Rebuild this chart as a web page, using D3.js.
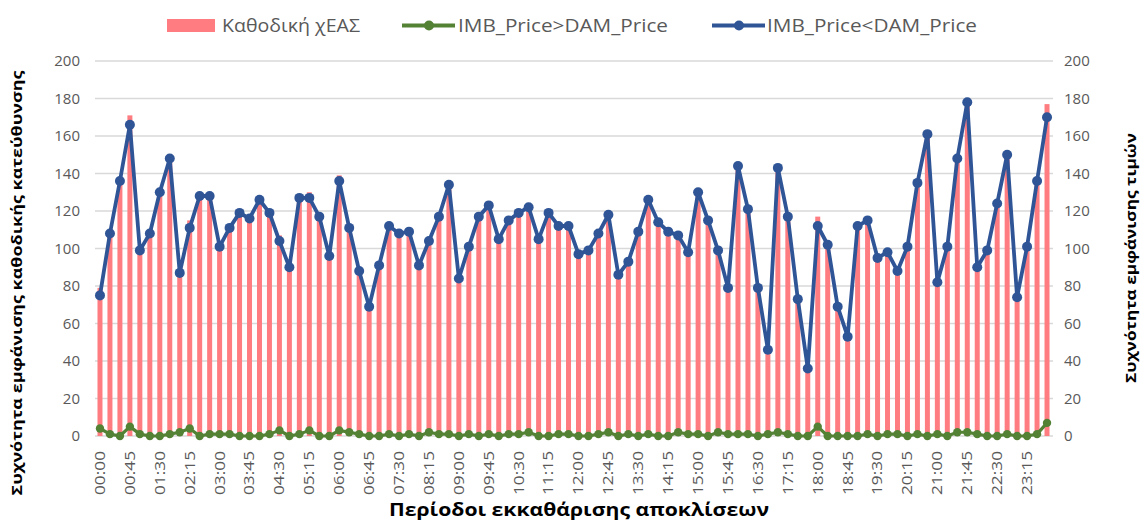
<!DOCTYPE html>
<html><head><meta charset="utf-8">
<script src="https://cdn.jsdelivr.net/npm/d3@7"></script>
<style>body{margin:0;background:#fff}svg{display:block}</style>
</head><body><svg id="c" width="1140" height="522"></svg>
<script>
const periods = [];
for (let h = 0; h < 24; h++) for (let m = 0; m < 60; m += 15) periods.push(String(h).padStart(2,"0")+":"+String(m).padStart(2,"0"));
const barValues = [79,109,136,171,100,108,130,149,89,115,128,129,102,112,119,116,126,120,107,90,128,130,117,96,139,113,89,69,91,113,108,110,91,106,118,135,84,102,117,124,105,116,120,124,105,119,113,113,97,99,109,120,86,94,109,127,114,109,109,99,131,115,101,80,145,122,79,47,145,118,73,36,117,102,69,53,112,116,95,99,89,101,136,161,83,101,150,180,91,99,124,151,74,101,137,177];
const greenValues = [4,1,0,5,1,0,0,1,2,4,0,1,1,1,0,0,0,1,3,0,1,3,0,0,3,2,1,0,0,1,0,1,0,2,1,1,0,1,0,1,0,1,1,2,0,0,1,1,0,0,1,2,0,1,0,1,0,0,2,1,1,0,2,1,1,1,0,1,2,1,0,0,5,0,0,0,0,1,0,1,1,0,1,0,1,0,2,2,1,0,0,1,0,0,1,7];
const blueValues = [75,108,136,166,99,108,130,148,87,111,128,128,101,111,119,116,126,119,104,90,127,127,117,96,136,111,88,69,91,112,108,109,91,104,117,134,84,101,117,123,105,115,119,122,105,119,112,112,97,99,108,118,86,93,109,126,114,109,107,98,130,115,99,79,144,121,79,46,143,117,73,36,112,102,69,53,112,115,95,98,88,101,135,161,82,101,148,178,90,99,124,150,74,101,136,170];
const yTicks = [0,20,40,60,80,100,120,140,160,180,200];
const seriesNames = ["Καθοδική χΕΑΣ","IMB_Price>DAM_Price","IMB_Price<DAM_Price"];

const svg = d3.select("#c");
const font = "'Open Sans', sans-serif";
const x = d3.scaleBand().domain(d3.range(periods.length)).range([95,1052]).paddingInner(0.5).paddingOuter(0.25);
const y = d3.scaleLinear().domain([0,200]).range([436,61]);
const cx = i => x(i) + x.bandwidth()/2;

svg.append("g").selectAll("line").data(yTicks).join("line")
  .attr("x1",95).attr("x2",1053).attr("y1",d=>y(d)).attr("y2",d=>y(d))
  .attr("stroke","#d9d9d9").attr("stroke-width",1.3);

const yl = svg.append("g").attr("transform","translate(88,0)").call(d3.axisLeft(y).tickValues(yTicks).tickSize(0).tickPadding(8));
const yr = svg.append("g").attr("transform","translate(1058,0)").call(d3.axisRight(y).tickValues(yTicks).tickSize(0).tickPadding(6));
[yl,yr].forEach(g=>{g.select(".domain").remove();g.selectAll("text").attr("font-family",font).attr("font-size",15).attr("fill","#595959");});

svg.append("g").selectAll("rect").data(barValues).join("rect")
  .attr("x",(d,i)=>x(i)).attr("width",x.bandwidth())
  .attr("y",d=>y(d)).attr("height",d=>y(0)-y(d)).attr("fill","#FF7C80");

function drawLine(vals,color,w,r){
  svg.append("path").datum(vals).attr("fill","none").attr("stroke",color).attr("stroke-width",w)
    .attr("stroke-linejoin","round").attr("d",d3.line().x((d,i)=>cx(i)).y(d=>y(d)));
  svg.append("g").selectAll("circle").data(vals).join("circle")
    .attr("cx",(d,i)=>cx(i)).attr("cy",d=>y(d)).attr("r",r).attr("fill",color);
}
drawLine(greenValues,"#548235",3.2,4.2);
drawLine(blueValues,"#2F5597",3.8,5);

const xa = svg.append("g").attr("transform","translate(0,451)")
  .call(d3.axisBottom(x).tickValues(d3.range(0,periods.length,3)).tickFormat(i=>periods[i]).tickSize(0).tickPadding(0));
xa.select(".domain").remove();
xa.selectAll("text").attr("font-family",font).attr("font-size",14).attr("fill","#595959")
  .attr("transform","rotate(-90)").attr("text-anchor","end").attr("dy","0.35em").attr("x",0).attr("y",0)
  .attr("textLength",44).attr("lengthAdjust","spacingAndGlyphs");

svg.append("text").attr("x",579).attr("y",516).attr("text-anchor","middle").attr("font-family",font)
  .attr("font-weight","bold").attr("font-size",18).attr("fill","#000")
  .attr("textLength",380).attr("lengthAdjust","spacingAndGlyphs").text("Περίοδοι εκκαθάρισης αποκλίσεων");
svg.append("text").attr("transform","translate(22,283) rotate(-90)").attr("text-anchor","middle").attr("font-family",font)
  .attr("font-weight","bold").attr("font-size",15).attr("textLength",425).attr("lengthAdjust","spacingAndGlyphs")
  .text("Συχνότητα εμφάνισης καθοδικής  κατεύθυνσης");
svg.append("text").attr("transform","translate(1136,258) rotate(-90)").attr("text-anchor","middle").attr("font-family",font)
  .attr("font-weight","bold").attr("font-size",15).attr("textLength",250).attr("lengthAdjust","spacingAndGlyphs")
  .text("Συχνότητα εμφάνισης τιμών");

const lg = svg.append("g").attr("font-family",font).attr("font-size",19).attr("fill","#595959");
lg.append("rect").attr("x",167).attr("y",19).attr("width",48).attr("height",13).attr("fill","#FF7C80");
lg.append("text").attr("x",222).attr("y",32).attr("textLength",138).attr("lengthAdjust","spacingAndGlyphs").text(seriesNames[0]);
[[402,"#548235",seriesNames[1],458],[712,"#2F5597",seriesNames[2],767]].forEach(([lx,c,t,tx])=>{
  lg.append("line").attr("x1",lx).attr("x2",lx+53).attr("y1",25.5).attr("y2",25.5).attr("stroke",c).attr("stroke-width",4);
  lg.append("circle").attr("cx",lx+27).attr("cy",25.5).attr("r",5).attr("fill",c);
  lg.append("text").attr("x",tx).attr("y",32).attr("textLength",210).attr("lengthAdjust","spacingAndGlyphs").text(t);
});
</script></body></html>
